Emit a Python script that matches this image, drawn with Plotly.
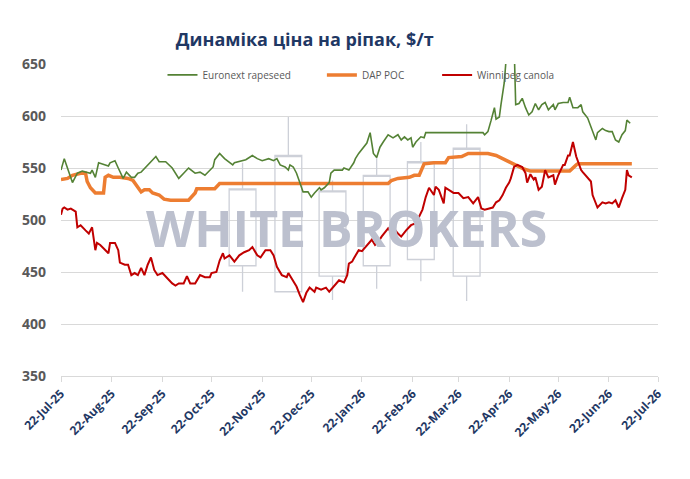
import pandas as pd
import plotly.graph_objects as go

# Rapeseed price dynamics: Euronext, DAP POC, Winnipeg canola ($/t)

base = pd.Timestamp("2025-07-22")

# day offsets from 22-Jul-25 and prices
euro_days = [0, 2, 7, 10, 13, 15, 18, 19, 21, 23, 27, 29, 30, 33, 35, 38, 40, 43, 45, 47,
             49, 52, 56, 58, 60, 64, 68, 72, 75, 78, 82, 85, 88, 91, 93, 94, 97, 100, 105, 106,
             109, 113, 117, 120, 123, 127, 130, 132, 134, 137, 139, 140, 142, 144, 146, 148, 151, 153, 155, 158,
             159, 161, 164, 165, 167, 172, 173, 176, 179, 180, 182, 185, 187, 189, 190, 191, 193, 195, 197, 200,
             203, 206, 208, 210, 212, 214, 215, 217, 220, 222, 223, 258, 259, 261, 263, 265, 266, 268, 269, 271,
             272, 273, 275, 276, 277, 278, 280, 282, 284, 286, 288, 290, 292, 294, 296, 298, 301, 302, 304, 307,
             310, 311, 313, 316, 318, 319, 322, 324, 327, 328, 331, 333, 335, 337, 339, 341, 343, 345, 346, 348]
euro_vals = [548, 559, 536, 545, 547, 546, 545, 548, 541, 555, 553, 552, 555, 557, 550, 540, 546, 541, 541, 545,
             546, 551, 558, 561, 556, 556, 550, 540, 545, 550, 545, 546, 543, 548, 551, 558, 564, 559, 553, 555,
             556, 558, 562, 559, 557, 559, 557, 559, 553, 551, 548, 553, 551, 545, 536, 527, 527, 522, 526, 531,
             529, 531, 536, 545, 548, 548, 550, 548, 555, 559, 564, 570, 574, 584, 572, 564, 560, 570, 575, 582,
             579, 582, 577, 580, 577, 579, 570, 575, 580, 579, 584, 584, 582, 585, 596, 608, 597, 599, 611, 632,
             652, 668, 664, 660, 670, 611, 612, 617, 608, 601, 604, 612, 606, 611, 613, 606, 611, 606, 612, 613,
             613, 618, 608, 608, 611, 604, 598, 589, 577, 584, 588, 586, 585, 585, 577, 575, 582, 586, 596, 593]

dap_days = [0, 4, 7, 12, 15, 16, 18, 21, 26, 27, 29, 32, 36, 41, 44, 47, 49, 51, 54, 56,
            60, 63, 67, 78, 82, 83, 94, 97, 200, 202, 206, 213, 216, 219, 222, 228, 235, 237, 245, 249,
            261, 266, 270, 274, 278, 283, 287, 311, 315, 316, 349]
dap_vals = [539, 540, 543, 545, 545, 537, 531, 526, 526, 541, 543, 541, 541, 540, 538, 532, 527, 529, 529, 526,
            524, 520, 519, 519, 526, 530, 530, 535, 535, 538, 540, 541, 543, 543, 554, 555, 555, 560, 561, 564,
            564, 562, 559, 556, 553, 549, 547, 547, 553, 554, 554]

wpg_days = [0, 1, 2, 4, 6, 9, 10, 12, 15, 17, 18, 19, 21, 22, 24, 27, 29, 30, 33, 35,
            36, 39, 41, 43, 45, 47, 49, 51, 53, 55, 57, 59, 62, 65, 68, 70, 72, 75, 77, 79,
            82, 85, 88, 91, 92, 95, 97, 99, 100, 103, 106, 109, 112, 115, 117, 120, 122, 125, 128, 130,
            132, 135, 138, 139, 141, 144, 146, 148, 150, 152, 155, 156, 159, 162, 164, 167, 170, 173, 175, 176,
            178, 179, 181, 182, 184, 186, 188, 190, 192, 194, 196, 198, 200, 202, 204, 206, 208, 211, 214, 217,
            219, 221, 223, 225, 228, 229, 231, 234, 235, 237, 240, 243, 246, 249, 252, 255, 257, 259, 262, 264,
            266, 268, 270, 272, 274, 275, 277, 279, 282, 284, 285, 287, 289, 290, 292, 294, 296, 298, 301, 302,
            304, 307, 308, 310, 311, 313, 315, 318, 319, 322, 324, 325, 328, 331, 333, 335, 337, 339, 341, 343,
            345, 346, 347, 349]
wpg_vals = [505, 511, 512, 510, 511, 508, 493, 495, 490, 487, 490, 493, 471, 478, 476, 471, 468, 478, 478, 471,
            459, 457, 457, 447, 449, 447, 454, 447, 457, 464, 452, 447, 449, 444, 439, 437, 439, 439, 446, 439,
            439, 447, 445, 445, 449, 450, 461, 468, 463, 466, 460, 466, 469, 471, 474, 466, 464, 471, 471, 466,
            455, 447, 445, 449, 444, 436, 428, 421, 430, 435, 431, 435, 433, 435, 431, 437, 442, 440, 447, 458,
            460, 463, 469, 471, 470, 474, 478, 481, 476, 479, 484, 488, 492, 488, 491, 487, 484, 490, 495, 497,
            503, 510, 522, 531, 524, 532, 529, 516, 531, 529, 526, 526, 521, 522, 516, 522, 511, 510, 511, 512,
            517, 519, 524, 531, 536, 540, 551, 553, 551, 545, 536, 544, 539, 541, 529, 532, 548, 541, 543, 534,
            543, 553, 553, 562, 562, 575, 561, 548, 546, 540, 537, 524, 512, 517, 516, 517, 516, 519, 512, 521,
            529, 548, 543, 541]

# candles of the WHITE BROKERS watermark logo
logo_days = [111, 139, 166, 193, 220, 248]
logo_top = [530, 562, 528, 543, 556, 569]
logo_bottom = [456, 431, 446, 456, 462, 446]
logo_high = [555, 599, 538, 561, 575, 592]
logo_low = [431, 431, 423, 434, 441, 422]

tick_labels = ["22-Jul-25", "22-Aug-25", "22-Sep-25", "22-Oct-25", "22-Nov-25", "22-Dec-25", "22-Jan-26",
               "22-Feb-26", "22-Mar-26", "22-Apr-26", "22-May-26", "22-Jun-26", "22-Jul-26"]


def to_dates(days):
    return base + pd.to_timedelta(days, unit="D")


tick_vals = pd.to_datetime(tick_labels, format="%d-%b-%y")

fig = go.Figure()

fig.add_trace(go.Box(x=to_dates(logo_days), q1=logo_bottom, median=logo_top, q3=logo_top,
                     lowerfence=logo_low, upperfence=logo_high, width=16.4 * 86400000,
                     whiskerwidth=0, line=dict(color="#cdd0d8", width=1.3),
                     fillcolor="rgba(0,0,0,0)", hoverinfo="skip", showlegend=False))

fig.add_trace(go.Scatter(x=to_dates(dap_days), y=dap_vals, mode="lines", name="DAP POC",
                         line=dict(color="#ED7D31", width=3.5), legend="legend2"))
fig.add_trace(go.Scatter(x=to_dates(euro_days), y=euro_vals, mode="lines", name="Euronext rapeseed",
                         line=dict(color="#548235", width=1.6), legend="legend"))
fig.add_trace(go.Scatter(x=to_dates(wpg_days), y=wpg_vals, mode="lines", name="Winnipeg canola",
                         line=dict(color="#C00000", width=2), legend="legend3"))

leg = dict(orientation="h", y=0.965, xanchor="left", yanchor="middle",
           font=dict(size=10, color="#595959"), bgcolor="rgba(0,0,0,0)")

fig.update_layout(
    width=690, height=479,
    margin=dict(l=50, r=40, t=56, b=111),
    paper_bgcolor="white", plot_bgcolor="white",
    font=dict(family="Open Sans", color="#595959"),
    title=dict(text="<b>Динаміка ціна на ріпак, $/т</b>", x=0.43, xanchor="center",
               y=0.933, yanchor="middle", font=dict(size=18, color="#1F3864")),
    legend=dict(leg, x=0.17),
    legend2=dict(leg, x=0.437),
    legend3=dict(leg, x=0.63),
    annotations=[dict(text="<b>WHITE BROKERS</b>", x=0.478, y=0.474, xref="paper", yref="paper",
                      showarrow=False, font=dict(size=50, color="#bcc0ce"))],
)

fig.update_xaxes(range=[tick_vals[0], tick_vals[-1]], tickvals=tick_vals, ticktext=tick_labels,
                 tickangle=-45, tickfont=dict(size=12, color="#1F3864", weight="bold"),
                 showgrid=False, showline=True, linecolor="#d9d9d9", linewidth=1,
                 ticks="outside", ticklen=5, tickcolor="#d9d9d9", zeroline=False)
fig.update_yaxes(range=[350, 650], dtick=50, showgrid=True, gridcolor="#d9d9d9", gridwidth=1,
                 tickfont=dict(size=14, color="#595959", weight="bold"), zeroline=False,
                 showline=False, ticks="", ticklabelstandoff=14)

fig.write_html("out.html")
